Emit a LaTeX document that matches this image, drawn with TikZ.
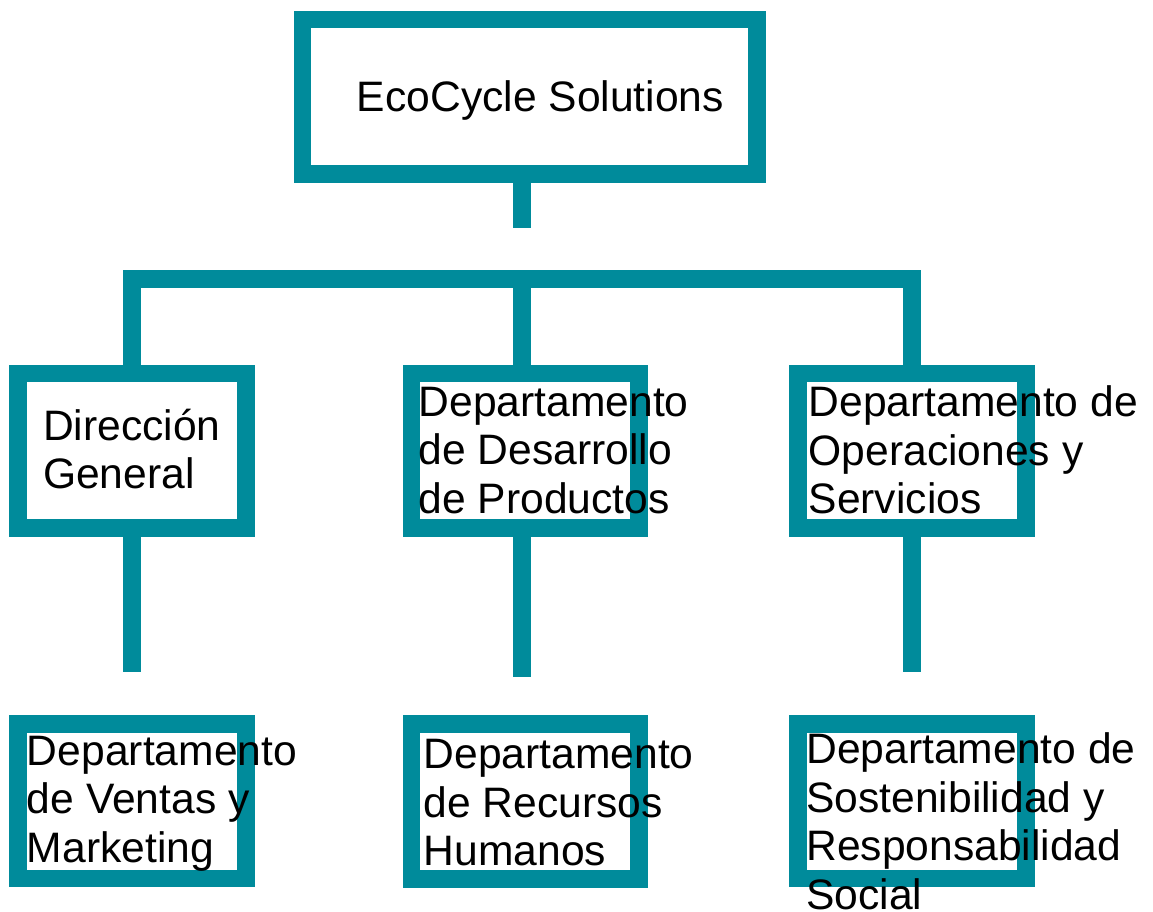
\documentclass[tikz,border=0pt]{standalone}
\usepackage{fontspec}
\setmainfont{Liberation Sans}
\definecolor{teal1}{RGB}{0,139,155}
\begin{document}
\begin{tikzpicture}[x=1pt,y=-1pt,
  box/.style={draw=teal1,fill=white,line width=17.4pt,rectangle,inner sep=0pt,
    minimum width=227.7pt,minimum height=154.8pt},
  conn/.style={draw=teal1,line width=17.4pt,line join=miter,line cap=butt},
  txt/.style={font=\fontsize{42.6}{48.5}\selectfont,align=left,inner sep=0pt,anchor=north west,text=black}]
\useasboundingbox (0,0) rectangle (1153,912);
% boxes
\node[box,minimum width=454.8pt,minimum height=154.4pt] (top) at (529.6,97) {};
\node[box] (dg)  at (132,450.6) {};
\node[box] (dp)  at (525.2,450.6) {};
\node[box] (ops) at (912,450.6) {};
\node[box] (vm)  at (132,801.3) {};
\node[box] (rh)  at (525.2,801.5) {};
\node[box] (sr)  at (912,801.3) {};
% connector coordinates
\coordinate (s0) at (522,227.7);
\coordinate (bar) at (522,278.8);
\coordinate (l1) at (132,671.7);
\coordinate (l2) at (522,676.7);
\coordinate (l3) at (912,671.7);
% connectors
\draw[conn] (s0 |- top.south) -- (s0);
\draw[conn] (dg.north) -- (dg.north |- bar) -- (ops.north |- bar) -- (ops.north);
\draw[conn] (bar) -- (bar |- dp.north);
\draw[conn] (l1 |- dg.south) -- (l1);
\draw[conn] (l2 |- dp.south) -- (l2);
\draw[conn] (l3 |- ops.south) -- (l3);
% texts
\node[txt] (ttop) at (356.7,77.75) {\strut EcoCycle Solutions};
\node[txt] (tdg)  at (42.8,406.05) {\strut Dirección\\General};
\node[txt] (tdp)  at (418.5,382.05) {\strut Departamento\\de Desarrollo\\de Productos};
\node[txt] (tops) at (808.5,382.55) {\strut Departamento de\\Operaciones y\\Servicios};
\node[txt] (tvm)  at (26.8,731.05) {\strut Departamento\\de Ventas y\\Marketing};
\node[txt] (trh)  at (423.5,734.35) {\strut Departamento\\de Recursos\\Humanos};
\node[txt] (tsr)  at (806.1,729.55) {\strut Departamento de\\Sostenibilidad y\\Responsabilidad\\Social};
\end{tikzpicture}
\end{document}
